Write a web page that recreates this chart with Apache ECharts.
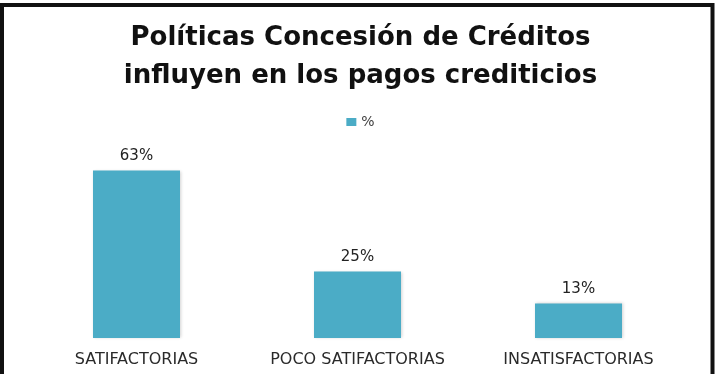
<!DOCTYPE html>
<html>
<head>
<meta charset="utf-8">
<script src="https://cdn.jsdelivr.net/npm/echarts@6/dist/echarts.min.js"></script>
<style>
html,body{margin:0;padding:0;background:#fff;}
#chart{width:721px;height:374px;}
</style>
</head>
<body>
<div id="chart"></div>
<script>
const titleText = "Políticas Concesión de Créditos\ninfluyen en los pagos crediticios";
const categories = ["SATIFACTORIAS", "POCO SATIFACTORIAS", "INSATISFACTORIAS"];
const seriesName = "%";
const values = [63, 25, 13];

const chart = echarts.init(document.getElementById('chart'));
chart.setOption({
  animation: false,
  backgroundColor: '#ffffff',
  title: {
    text: titleText,
    left: 'center',
    top: 14,
    textStyle: {
      fontFamily: 'DejaVu Sans',
      fontWeight: 'bold',
      fontSize: 26,
      lineHeight: 38,
      color: '#111111'
    }
  },
  legend: {
    data: [seriesName],
    top: 110,
    left: 'center',
    icon: 'rect',
    itemWidth: 10,
    itemHeight: 8,
    itemGap: 6,
    textStyle: { fontFamily: 'DejaVu Sans', fontSize: 14, color: '#404040' }
  },
  graphic: [{
    type: 'rect',
    shape: { x: 2, y: 5, width: 710.5, height: 400 },
    style: { fill: 'none', stroke: '#111111', lineWidth: 4 },
    silent: true,
    z: 100
  }],
  grid: { left: 26, right: 32, top: 152, bottom: 36 },
  xAxis: {
    type: 'category',
    data: categories,
    axisLine: { show: false },
    axisTick: { show: false },
    axisLabel: {
      interval: 0,
      hideOverlap: false,
      margin: 14,
      fontFamily: 'DejaVu Sans',
      fontSize: 16,
      color: '#2a2a2a'
    }
  },
  yAxis: {
    type: 'value',
    min: 0,
    max: 70,
    show: false,
    splitLine: { show: false }
  },
  series: [{
    name: seriesName,
    type: 'bar',
    data: values,
    barWidth: 87,
    itemStyle: {
      color: '#4BACC6',
      shadowColor: 'rgba(0,0,0,0.18)',
      shadowBlur: 3,
      shadowOffsetX: 1
    },
    label: {
      show: true,
      position: 'top',
      distance: 7,
      formatter: '{c}%',
      fontFamily: 'DejaVu Sans',
      fontSize: 15,
      color: '#222222'
    }
  }]
});
</script>
</body>
</html>
